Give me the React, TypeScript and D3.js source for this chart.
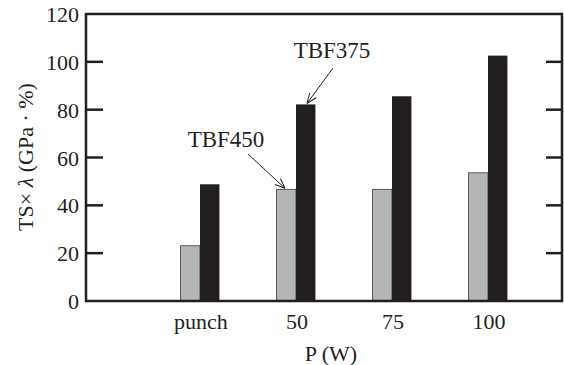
import React, { useEffect, useRef } from 'react';
import * as d3 from 'd3';

const categories = ['punch', '50', '75', '100'];
const tbf450 = [23.1, 46.7, 46.7, 53.6];
const tbf375 = [48.8, 82.2, 85.6, 102.6];
const yTicks = [0, 20, 40, 60, 80, 100, 120];

const W = 564;
const H = 365;
const ink = '#231f20';
const font = '"Liberation Serif", "Times New Roman", serif';

const App = () => {
  const chart = useRef<SVGSVGElement>(null);

  useEffect(() => {
    const svg = d3.select(chart.current);
    svg.selectAll('*').remove();

    const left = 86;
    const right = 562;
    const top = 14;
    const bottom = 301;

    const y = d3.scaleLinear().domain([0, 120]).range([bottom, top]);
    // one empty slot before "punch", so bands start inside the frame
    const x = d3.scaleBand().domain(categories).range([152, 536]);
    const barW = 19.4;

    const defs = svg.append('defs');
    defs.append('marker')
      .attr('id', 'arrow')
      .attr('viewBox', '0 0 10 10')
      .attr('refX', 10)
      .attr('refY', 5)
      .attr('markerWidth', 10)
      .attr('markerHeight', 10)
      .attr('markerUnits', 'userSpaceOnUse')
      .attr('orient', 'auto')
      .append('path')
      .attr('d', 'M0,1 L10,5 L0,9')
      .attr('fill', 'none')
      .attr('stroke', ink)
      .attr('stroke-width', 1);

    // bars
    const g = svg.append('g');
    g.selectAll('.gray')
      .data(categories)
      .enter().append('rect')
      .attr('x', d => x(d)! + x.bandwidth() / 2 - barW)
      .attr('y', (d, i) => y(tbf450[i]))
      .attr('width', barW)
      .attr('height', (d, i) => bottom - y(tbf450[i]))
      .attr('fill', '#b4b5b7')
      .attr('stroke', '#3a3a3a')
      .attr('stroke-width', 0.8);
    g.selectAll('.black')
      .data(categories)
      .enter().append('rect')
      .attr('x', d => x(d)! + x.bandwidth() / 2)
      .attr('y', (d, i) => y(tbf375[i]))
      .attr('width', barW)
      .attr('height', (d, i) => bottom - y(tbf375[i]))
      .attr('fill', ink);

    // frame + ticks
    svg.append('rect')
      .attr('x', left)
      .attr('y', top)
      .attr('width', right - left)
      .attr('height', bottom - top)
      .attr('fill', 'none')
      .attr('stroke', ink)
      .attr('stroke-width', 2.5);

    yTicks.slice(1, -1).forEach(t => {
      svg.append('line')
        .attr('x1', left).attr('x2', left + 17)
        .attr('y1', y(t)).attr('y2', y(t))
        .attr('stroke', ink).attr('stroke-width', 2.5);
      svg.append('line')
        .attr('x1', right - 16).attr('x2', right)
        .attr('y1', y(t)).attr('y2', y(t))
        .attr('stroke', ink).attr('stroke-width', 2.5);
    });

    svg.selectAll('.ytick')
      .data(yTicks)
      .enter().append('text')
      .attr('x', 79)
      .attr('y', d => y(d) + 8)
      .attr('text-anchor', 'end')
      .attr('font-family', font)
      .attr('font-size', 22)
      .attr('fill', ink)
      .text(d => d);

    svg.selectAll('.xtick')
      .data(categories)
      .enter().append('text')
      .attr('x', d => x(d)! + x.bandwidth() / 2 + 1)
      .attr('y', 329)
      .attr('text-anchor', 'middle')
      .attr('font-family', font)
      .attr('font-size', 22)
      .attr('fill', ink)
      .text(d => d);

    svg.append('text')
      .attr('x', 331)
      .attr('y', 361)
      .attr('text-anchor', 'middle')
      .attr('font-family', font)
      .attr('font-size', 22)
      .attr('fill', ink)
      .text('P (W)');

    const yl = svg.append('text')
      .attr('transform', `translate(33,157) rotate(-90)`)
      .attr('text-anchor', 'middle')
      .attr('font-family', font)
      .attr('font-size', 22)
      .attr('fill', ink);
    yl.append('tspan').text('TS× ');
    yl.append('tspan').attr('font-style', 'italic').text('λ');
    yl.append('tspan').text(' (GPa · %)');

    // annotations
    const xi = (c: string) => x(c)! + x.bandwidth() / 2;
    svg.append('text')
      .attr('x', 332)
      .attr('y', 58)
      .attr('text-anchor', 'middle')
      .attr('font-family', font)
      .attr('font-size', 23)
      .attr('fill', ink)
      .text('TBF375');
    svg.append('line')
      .attr('x1', 333).attr('y1', 68)
      .attr('x2', xi('50') + 11).attr('y2', y(tbf375[1]) - 1)
      .attr('stroke', ink).attr('stroke-width', 1)
      .attr('marker-end', 'url(#arrow)');

    svg.append('text')
      .attr('x', 226)
      .attr('y', 147)
      .attr('text-anchor', 'middle')
      .attr('font-family', font)
      .attr('font-size', 23)
      .attr('fill', ink)
      .text('TBF450');
    svg.append('line')
      .attr('x1', 248).attr('y1', 154)
      .attr('x2', xi('50') - 11).attr('y2', y(tbf450[1]) - 1)
      .attr('stroke', ink).attr('stroke-width', 1)
      .attr('marker-end', 'url(#arrow)');
  }, []);

  return (
    <svg
      ref={chart}
      width={W}
      height={H}
      style={{ position: 'absolute', left: 0, top: 0, background: '#fff' }}
    />
  );
};

export default App;
